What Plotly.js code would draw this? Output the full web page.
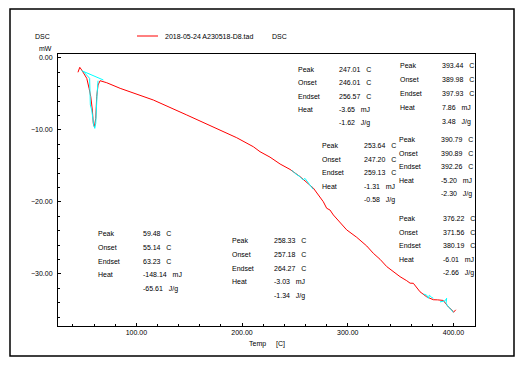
<!DOCTYPE html>
<html>
<head>
<meta charset="utf-8">
<script src="https://cdn.plot.ly/plotly-3.0.1.min.js"></script>
<style>
  html, body { margin: 0; padding: 0; background: #fff; }
  #chart { width: 525px; height: 365px; }
</style>
</head>
<body>
<div id="chart"></div>
<script>
// ---- DSC curve (red) ----
const tempC = [44.8, 46.5, 48.3, 50.5, 53.1, 55.3, 56.9, 58.4, 59.3, 60.3, 61.6, 62.5, 63.8, 65.7, 68.8, 72.0, 84.7, 94.1,
  116.1, 147.7, 179.2, 195.0, 210.7, 217.0, 226.5, 236.0, 245.4, 248.5, 254.9, 267.5, 276.9, 280.1, 283.2, 286.4,
  299.0, 308.5, 311.6, 318.0, 324.2, 330.6, 336.9, 343.1, 349.5, 355.8, 359.0, 362.1, 365.3, 368.4, 374.7, 381.0,
  385.0, 390.4, 395.2, 398.4, 400.0, 402.2];
const dscMW = [-2.01, -1.32, -1.69, -2.15, -2.85, -4.24, -5.40, -7.25, -9.10, -9.57, -8.40, -5.40, -3.78, -3.18, -3.32, -3.46, -4.24, -4.71,
  -5.86, -7.94, -10.03, -11.10, -12.35, -13.04, -13.80, -14.75, -15.50, -15.80, -16.50, -18.10, -19.99, -20.90, -21.14, -21.83,
  -23.90, -24.93, -25.30, -26.14, -27.15, -27.99, -29.00, -29.70, -30.40, -30.96, -31.30, -31.32, -32.00, -32.50, -33.20, -33.60,
  -33.62, -33.70, -34.60, -35.00, -35.35, -35.00];

// ---- integration / baseline segments (cyan), null separates segments ----
const cyanT = [48.3, 68.8, null,
  50.5, 55.8, 56.5, 57.8, 59.7, 60.7, 61.6, 62.0, 62.9, 63.8, null,
  246.9, 250.0, 254.8, 257.9, 259.5, 267.3, null,
  371.6, 374.7, 376.3, 377.2, 379.5, 381.0, null,
  387.3, 392.0, 393.6, 393.0, 395.2, 400.0];
const cyanV = [-1.79, -3.08, null,
  -2.00, -2.85, -6.55, -7.25, -9.33, -9.80, -9.10, -7.25, -4.93, -3.18, null,
  -15.58, -16.04, -16.51, -16.97, -16.74, -18.26, null,
  -32.80, -32.97, -33.40, -32.97, -33.29, -33.40, null,
  -33.90, -33.76, -33.40, -34.10, -34.57, -35.35];

// ---- peak evaluation results ----
const peakT   = [59.48, 247.01, 253.64, 258.33, 393.44, 390.79, 376.22];
const onsetT  = [55.14, 246.01, 247.20, 257.18, 389.98, 390.89, 371.56];
const endsetT = [63.23, 256.57, 259.13, 264.27, 397.93, 392.26, 380.19];
const heatMJ  = [-148.14, -3.65, -1.31, -3.03, 7.86, -5.20, -6.01];
const heatJG  = [-65.61, -1.62, -0.58, -1.34, 3.48, -2.30, -2.66];

// ---- text ----
const legendFile = "2018-05-24 A230518-D8.tad";
const legendSignal = "DSC";
const yTitleLines = ["DSC", "mW"];
const xTitleParts = ["Temp", "[C]"];
const xTicks = [100, 200, 300, 400];
const yTicks = [0, -10, -20, -30];

// ---- layout helpers (pixel -> paper) ----
const M = {l: 58, r: 50, t: 54, b: 39};
const PW = 525 - M.l - M.r, PH = 365 - M.t - M.b;
const px = x => (x - M.l) / PW;
const py = y => (365 - M.b - y) / PH;

const FONT = "Liberation Sans, Arial, sans-serif";
const SP = "\u00a0\u00a0\u00a0";

// block placement in pixels: [labelX, valueX, firstRowY, rowGap]
const blockPos = [
  [96, 141, 233.5, 13.8],
  [296, 337, 69.5, 13.4],
  [320, 362, 145.5, 13.7],
  [230, 272, 240.5, 13.8],
  [398, 440, 66, 13.9],
  [397, 439, 139.5, 13.7],
  [397, 441, 218.5, 13.6]
];

const annotations = [];
function txt(x, y, s, anchor) {
  annotations.push({
    xref: "paper", yref: "paper", x: px(x), y: py(y), text: s, showarrow: false,
    xanchor: anchor || "left", yanchor: "middle",
    font: {family: FONT, size: 7, color: "#000"}
  });
}
for (let i = 0; i < peakT.length; i++) {
  const [lx, vx, y0, g] = blockPos[i];
  const labels = ["Peak", "Onset", "Endset", "Heat", ""];
  const vals = [
    peakT[i].toFixed(2) + SP + "C",
    onsetT[i].toFixed(2) + SP + "C",
    endsetT[i].toFixed(2) + SP + "C",
    heatMJ[i].toFixed(2) + SP + "mJ",
    heatJG[i].toFixed(2) + SP + "J/g"
  ];
  for (let r = 0; r < 5; r++) {
    if (labels[r]) txt(lx, y0 + r * g, labels[r]);
    txt(vx, y0 + r * g, vals[r]);
  }
}
// legend texts
txt(163, 36, legendFile);
txt(270, 36, legendSignal);
// y-axis title
txt(42.5, 36, yTitleLines[0], "center");
txt(45, 48, yTitleLines[1], "center");
// x-axis title
txt(247, 344, xTitleParts[0]);
txt(274, 344, xTitleParts[1]);

const shapes = [
  {type: "rect", xref: "paper", yref: "paper", x0: px(10), x1: px(514), y0: py(356), y1: py(9),
   line: {color: "#000", width: 1.5}},
  {type: "line", xref: "paper", yref: "paper", x0: px(137), x1: px(158), y0: py(36), y1: py(36),
   line: {color: "#ff0000", width: 1}}
];

const traces = [
  {x: tempC, y: dscMW, type: "scatter", mode: "lines", line: {color: "#ff0000", width: 1}, hoverinfo: "skip"},
  {x: cyanT, y: cyanV, type: "scatter", mode: "lines", connectgaps: false, line: {color: "#00ffff", width: 1}, hoverinfo: "skip"}
];

const axisCommon = {
  showgrid: false, zeroline: false, showline: true, mirror: true,
  linecolor: "#000", linewidth: 1,
  ticks: "inside", ticklen: 3, tickcolor: "#000", tickwidth: 1,
  tickfont: {family: FONT, size: 7, color: "#000"},
  tickformat: ".2f"
};

const layout = {
  width: 525, height: 365,
  margin: M,
  paper_bgcolor: "#fff", plot_bgcolor: "#fff",
  showlegend: false,
  xaxis: Object.assign({}, axisCommon, {
    range: [25.9, 420.4], tickmode: "array", tickvals: xTicks,
    minor: {dtick: 20, tick0: 0, ticks: "inside", ticklen: 2, tickcolor: "#000", showgrid: false},
    ticklabelstandoff: 0
  }),
  yaxis: Object.assign({}, axisCommon, {
    range: [-37.25, 0.53], tickmode: "array", tickvals: yTicks,
    minor: {dtick: 2, tick0: 0, ticks: "inside", ticklen: 2, tickcolor: "#000", showgrid: false},
    ticklabelstandoff: 3
  }),
  annotations: annotations,
  shapes: shapes
};

Plotly.newPlot("chart", traces, layout, {staticPlot: true, displayModeBar: false});
</script>
</body>
</html>
